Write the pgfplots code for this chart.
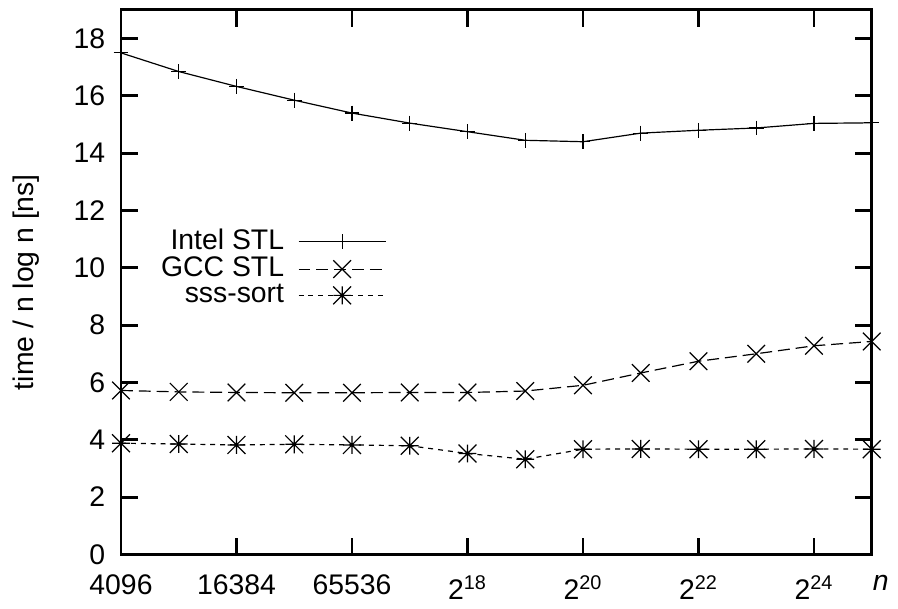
\documentclass[border=0pt]{standalone}
\usepackage{fontspec}
\setmainfont{Liberation Sans}
\usepackage{pgfplots}
\pgfplotsset{compat=1.18}
\usetikzlibrary{calc}

% gnuplot-style star: + and x on top of each other
\pgfdeclareplotmark{gpstar}{%
  \pgfpathmoveto{\pgfqpoint{-\pgfplotmarksize}{0pt}}\pgfpathlineto{\pgfqpoint{\pgfplotmarksize}{0pt}}%
  \pgfpathmoveto{\pgfqpoint{0pt}{-\pgfplotmarksize}}\pgfpathlineto{\pgfqpoint{0pt}{\pgfplotmarksize}}%
  \pgfpathmoveto{\pgfqpoint{-\pgfplotmarksize}{-\pgfplotmarksize}}\pgfpathlineto{\pgfqpoint{\pgfplotmarksize}{\pgfplotmarksize}}%
  \pgfpathmoveto{\pgfqpoint{-\pgfplotmarksize}{\pgfplotmarksize}}\pgfpathlineto{\pgfqpoint{\pgfplotmarksize}{-\pgfplotmarksize}}%
  \pgfusepathqstroke}

\newcommand{\gpfont}{\fontsize{14.3}{16.5}\selectfont}

\begin{document}
\gpfont
\begin{tikzpicture}
\begin{axis}[
  scale only axis, width=378.5pt, height=274.5pt,
  xmin=12, xmax=25, ymin=0, ymax=19,
  xtick={12,14,...,24},
  xticklabels={4096,16384,65536,2\textsuperscript{18},2\textsuperscript{20},2\textsuperscript{22},2\textsuperscript{24}},
  ytick={0,2,...,18},
  tick align=inside, major tick length=8.5pt,
  axis line style={line width=1.5pt}, tick style={line width=1.5pt,black},
  ticklabel style={font=\gpfont},
  /pgf/number format/assume math mode=true,
  xticklabel style={yshift=-5.5pt},
  yticklabel style={xshift=-3pt},
  ylabel={time / n log n [ns]},
  ylabel style={at={(axis description cs:-0.1268,0.5)},anchor=center,font=\gpfont},
  xlabel={\textit{n}},
  xlabel style={at={(axis description cs:1.0119,-0.053)},anchor=center,font=\gpfont},
  clip=false,
  every axis plot/.append style={line width=0.6pt,black},
  legend plot pos=right,
  legend cell align=right,
  legend style={draw=none,fill=none,at={(axis description cs:0.362,0.526)},anchor=east,
    font=\gpfont,row sep=-2.5pt,
    /tikz/every odd column/.append style={column sep=5pt}},
  legend image code/.code={\draw[mark repeat=2,mark phase=2] plot coordinates {(0pt,0pt) (22pt,0pt) (44pt,0pt)};},
]
\addplot[solid,mark=+,mark size=3.75pt] coordinates {
  (12,17.50)(13,16.85)(14,16.33)(15,15.85)(16,15.40)(17,15.05)(18,14.75)
  (19,14.45)(20,14.40)(21,14.70)(22,14.80)(23,14.88)(24,15.04)(25,15.06)};
\addlegendentry{Intel STL}
\addplot[dash pattern=on 6pt off 3pt,mark=x,mark size=6.3pt,mark options={solid}] coordinates {
  (12,5.72)(13,5.67)(14,5.65)(15,5.64)(16,5.64)(17,5.65)(18,5.65)
  (19,5.70)(20,5.90)(21,6.33)(22,6.74)(23,7.00)(24,7.28)(25,7.43)};
\addlegendentry{GCC STL}
\addplot[dash pattern=on 2.5pt off 2.5pt,mark=gpstar,mark size=4.5pt,mark options={solid}] coordinates {
  (12,3.88)(13,3.85)(14,3.82)(15,3.84)(16,3.82)(17,3.79)(18,3.52)
  (19,3.32)(20,3.67)(21,3.68)(22,3.67)(23,3.67)(24,3.68)(25,3.67)};
\addlegendentry{sss-sort}
\end{axis}
\path[use as bounding box] ($(current axis.south west)+(-61pt,-21pt)$) rectangle ($(current axis.north east)+(9.5pt,5pt)$);
\end{tikzpicture}
\end{document}
